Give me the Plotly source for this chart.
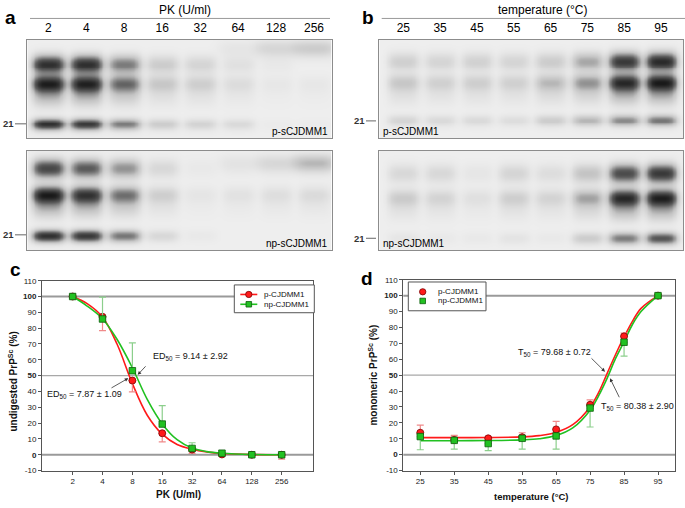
import numpy as np
import plotly.graph_objects as go

# ------------------------------------------------------------------ data
pk_lanes = ["2", "4", "8", "16", "32", "64", "128", "256"]
temp_lanes = ["25", "35", "45", "55", "65", "75", "85", "95"]

# western blot band intensities per lane (0 = background, 1 = black)
a_p_smear = [0, 0, 0, 0, 0, 0.05, 0.14, 0.2]
a_p_di = [0.85, 0.85, 0.5, 0.2, 0.15, 0.08, 0.03, 0.0]
a_p_mono = [0.9, 0.88, 0.55, 0.22, 0.18, 0.1, 0.04, 0.04]
a_p_un = [0.85, 0.8, 0.5, 0.2, 0.16, 0.12, 0.02, 0.02]

a_np_smear = [0, 0, 0, 0, 0, 0.05, 0.12, 0.28]
a_np_di = [0.72, 0.62, 0.42, 0.13, 0.03, 0.02, 0.02, 0.02]
a_np_mono = [0.92, 0.8, 0.52, 0.18, 0.05, 0.07, 0.09, 0.11]
a_np_un = [0.85, 0.8, 0.52, 0.13, 0.03, 0.0, 0.0, 0.0]

b_p_smear = [0, 0, 0, 0, 0, 0, 0, 0]
b_p_di = [0.18, 0.15, 0.17, 0.15, 0.2, 0.35, 0.8, 0.88]
b_p_mono = [0.22, 0.17, 0.18, 0.17, 0.28, 0.4, 0.85, 0.92]
b_p_un = [0.15, 0.12, 0.12, 0.1, 0.2, 0.3, 0.45, 0.52]

b_np_smear = [0, 0, 0, 0, 0, 0, 0, 0]
b_np_di = [0.13, 0.13, 0.05, 0.15, 0.1, 0.25, 0.7, 0.8]
b_np_mono = [0.2, 0.15, 0.08, 0.18, 0.15, 0.35, 0.85, 0.9]
b_np_un = [0.05, 0.03, 0.03, 0.06, 0.03, 0.2, 0.5, 0.65]

# panel c
pk_units = [2, 4, 8, 16, 32, 64, 128, 256]
c_p_mean = [100, 87.2, 46.9, 13.6, 3.3, 0.2, 0, 0]
c_p_err_minus = [0, 8.7, 7.2, 5.4, 2.5, 0.5, 0, 2.7]
c_np_mean = [100, 85.8, 53.1, 19.4, 4.0, 1.0, 0, 0]
c_np_err_plus = [0, 13.8, 17.6, 11.6, 3.6, 1.5, 0, 0]
c_fit_x = [2, 2.8, 4, 5.6, 8, 11.3, 16, 22.6, 32, 45, 64, 128, 256]
c_p_fit = [100, 95.5, 87, 70, 45, 25, 13, 6.5, 3.5, 1.8, 0.8, 0.1, 0]
c_np_fit = [100, 94, 86, 73, 55, 35, 19.5, 9.5, 4.2, 2.0, 1.0, 0.2, 0]

# panel d
temps = [25, 35, 45, 55, 65, 75, 85, 95]
d_p_mean = [13.8, 9.3, 10.3, 11.0, 15.9, 31.4, 74.4, 100]
d_p_err_plus = [4.8, 2.9, 1.1, 2.8, 5.1, 3.1, 2.1, 0]
d_np_mean = [11.4, 9.0, 7.0, 10.3, 11.8, 29.3, 70.7, 100]
d_np_err_minus = [8.3, 5.5, 4.5, 6.8, 8.3, 11.9, 8.7, 0]
d_fit_x = [25, 35, 45, 55, 60, 65, 70, 75, 77.5, 80, 82.5, 85, 87.5, 90, 95]
d_p_fit = [10.7, 10.7, 10.8, 11.2, 12, 14, 19, 30, 39, 51, 63, 74, 84, 92, 100]
d_np_fit = [8.8, 8.8, 8.9, 9.3, 10, 12, 17, 28, 37, 48, 60.5, 71, 82, 90, 100]

series_names = ["p-CJDMM1", "np-CJDMM1"]

# ------------------------------------------------------------------ helpers
W, H = 685, 508
FONT = "Arial, Liberation Sans, sans-serif"


def px(x):
    return x / W


def py(y):
    return 1 - y / H


def blot_z(xs, ys, smear, di, mono, un, rows):
    z = np.zeros((len(ys), len(xs)))
    r0, r1, r2, r3 = rows
    for i in range(len(di)):
        prof = np.exp(-(np.abs(xs - i) / 0.43) ** 4)
        wide = np.exp(-(np.abs(xs - i) / 0.55) ** 4)
        col = (
            smear[i] * np.exp(-0.5 * ((ys - r0) / 6.0) ** 2)[:, None] * wide[None, :]
            + di[i] * np.exp(-0.5 * ((ys - r1) / 6.5) ** 2)[:, None] * prof[None, :]
            + mono[i] * np.exp(-0.5 * ((ys - r2) / 6.0) ** 2)[:, None] * prof[None, :]
            + 0.3 * mono[i] * np.exp(-0.5 * ((ys - (r2 + 13)) / 7.0) ** 2)[:, None] * prof[None, :]
            + un[i] * np.exp(-0.5 * ((ys - r3) / 4.2) ** 2)[:, None] * prof[None, :]
        )
        z += col
    return np.clip(z, 0, 1)


fig = go.Figure()

blot_scale = [[0, "#eeeeee"], [0.25, "#c4c4c4"], [0.6, "#5e5e5e"], [1, "#141414"]]

blots = [
    ("", (27.3, 331.7), (36.7, 136.7), pk_lanes,
     (a_p_smear, a_p_di, a_p_mono, a_p_un), (8, 24.5, 44.5, 85.5), (-0.553, 7.466)),
    ("2", (27.3, 331.7), (149.3, 250.7), pk_lanes,
     (a_np_smear, a_np_di, a_np_mono, a_np_un), (12, 17.5, 44, 85), (-0.553, 7.466)),
    ("3", (379.3, 683.3), (36.7, 136.7), temp_lanes,
     (b_p_smear, b_p_di, b_p_mono, b_p_un), (8, 21.6, 43.3, 81.6), (-0.652, 7.606)),
    ("4", (379.3, 683.3), (149.3, 250.7), temp_lanes,
     (b_np_smear, b_np_di, b_np_mono, b_np_un), (8, 22.5, 47, 87.4), (-0.652, 7.606)),
]

layout_axes = {}
for suf, xd, yd, labels, data, rows, xr in blots:
    xs = np.linspace(xr[0], xr[1], 220)
    ys = np.linspace(0, 100, 101)
    z = blot_z(xs, ys, *data, rows)
    fig.add_trace(go.Heatmap(
        x=xs, y=ys, z=z, colorscale=blot_scale, zmin=0, zmax=1,
        showscale=False, zsmooth="best", hoverinfo="skip",
        xaxis="x" + suf, yaxis="y" + suf,
    ))
    show_top = suf in ("", "3")
    layout_axes["xaxis" + suf] = dict(
        domain=[px(xd[0]), px(xd[1])], anchor="y" + suf, range=list(xr),
        side="top", tickvals=list(range(len(labels))), ticktext=labels,
        showticklabels=show_top, ticks="", ticklabelstandoff=2,
        tickfont=dict(size=12, color="#000", family=FONT),
        showline=True, mirror=True, linecolor="#8c8c8c", linewidth=1,
        showgrid=False, zeroline=False, fixedrange=True,
    )
    layout_axes["yaxis" + suf] = dict(
        domain=[py(yd[1]), py(yd[0])], anchor="x" + suf, range=[100, 0],
        showticklabels=False, ticks="", showline=True, mirror=True,
        linecolor="#8c8c8c", linewidth=1, showgrid=False, zeroline=False,
    )

# ------------------------------------------------------------------ panel c
RED, RED_D, RED_E = "#ff1a1a", "#7a0000", "#f08a8a"
GRN, GRN_D, GRN_E = "#22c122", "#0b5e0b", "#8ccf8c"

fig.add_trace(go.Scatter(x=c_fit_x, y=c_p_fit, mode="lines", line=dict(color=RED, width=1.6, shape="spline"),
                         xaxis="x5", yaxis="y5", showlegend=False, hoverinfo="skip"))
fig.add_trace(go.Scatter(x=c_fit_x, y=c_np_fit, mode="lines", line=dict(color=GRN, width=1.6, shape="spline"),
                         xaxis="x5", yaxis="y5", showlegend=False, hoverinfo="skip"))
fig.add_trace(go.Scatter(
    x=pk_units, y=c_p_mean, mode="markers", name=series_names[0],
    marker=dict(symbol="circle", size=7, color=RED, line=dict(color=RED_D, width=0.8)),
    error_y=dict(type="data", symmetric=False, array=[0] * len(pk_units), arrayminus=c_p_err_minus,
                 color=RED_E, thickness=1.2, width=3.5),
    xaxis="x5", yaxis="y5", showlegend=False))
fig.add_trace(go.Scatter(
    x=pk_units, y=c_np_mean, mode="markers", name=series_names[1],
    marker=dict(symbol="square", size=6.5, color=GRN, line=dict(color=GRN_D, width=0.8)),
    error_y=dict(type="data", symmetric=False, array=c_np_err_plus, arrayminus=[0] * len(pk_units),
                 color=GRN_E, thickness=1.2, width=3.5),
    xaxis="x5", yaxis="y5", showlegend=False))

# ------------------------------------------------------------------ panel d
fig.add_trace(go.Scatter(x=d_fit_x, y=d_p_fit, mode="lines", line=dict(color=RED, width=1.6, shape="spline"),
                         xaxis="x6", yaxis="y6", showlegend=False, hoverinfo="skip"))
fig.add_trace(go.Scatter(x=d_fit_x, y=d_np_fit, mode="lines", line=dict(color=GRN, width=1.6, shape="spline"),
                         xaxis="x6", yaxis="y6", showlegend=False, hoverinfo="skip"))
fig.add_trace(go.Scatter(
    x=temps, y=d_p_mean, mode="markers", name=series_names[0],
    marker=dict(symbol="circle", size=7, color=RED, line=dict(color=RED_D, width=0.8)),
    error_y=dict(type="data", symmetric=False, array=d_p_err_plus, arrayminus=[0] * len(temps),
                 color=RED_E, thickness=1.2, width=3.5),
    xaxis="x6", yaxis="y6", showlegend=False))
fig.add_trace(go.Scatter(
    x=temps, y=d_np_mean, mode="markers", name=series_names[1],
    marker=dict(symbol="square", size=6.5, color=GRN, line=dict(color=GRN_D, width=0.8)),
    error_y=dict(type="data", symmetric=False, array=[0] * len(temps), arrayminus=d_np_err_minus,
                 color=GRN_E, thickness=1.2, width=3.5),
    xaxis="x6", yaxis="y6", showlegend=False))

yvals = list(range(-10, 111, 10))
ytext = [("<b>%d</b>" % v) if v in (0, 50, 100) else str(v) for v in yvals]
chart_axis = dict(showline=True, mirror=True, linecolor="#555", linewidth=1, ticks="outside",
                  ticklen=3, tickcolor="#555", showgrid=False, zeroline=False,
                  tickfont=dict(size=8, color="#222", family=FONT))

layout_axes["xaxis5"] = dict(chart_axis, domain=[px(42), px(313)], anchor="y5", type="log",
                             range=[-0.008, 2.724], tickvals=pk_units, ticktext=[str(v) for v in pk_units])
layout_axes["yaxis5"] = dict(chart_axis, domain=[py(475), py(281.7)], anchor="x5", range=[-10, 110],
                             tickvals=yvals, ticktext=ytext)
layout_axes["xaxis6"] = dict(chart_axis, domain=[px(403.3), px(675)], anchor="y6",
                             range=[20, 100], tickvals=temps, ticktext=[str(v) for v in temps])
layout_axes["yaxis6"] = dict(chart_axis, domain=[py(475), py(280.7)], anchor="x6", range=[-10, 110],
                             tickvals=yvals, ticktext=ytext)

shapes = []
for ax in ("5", "6"):
    for v, w, c in ((0, 2, "#9a9a9a"), (50, 1.4, "#a8a8a8"), (100, 2, "#9a9a9a")):
        shapes.append(dict(type="line", xref="x%s domain" % ax, yref="y" + ax, x0=0, x1=1, y0=v, y1=v,
                           line=dict(color=c, width=w), layer="below"))

shapes.append(dict(type="line", xref="paper", yref="paper", x0=px(30), x1=px(330), y0=py(14.7), y1=py(14.7),
                   line=dict(color="#999", width=1)))
shapes.append(dict(type="line", xref="paper", yref="paper", x0=px(381.7), x1=px(685), y0=py(14.7), y1=py(14.7),
                   line=dict(color="#999", width=1)))
for x0, x1, y in ((15, 26, 122), (15, 26, 235), (366, 376, 119), (366, 376, 238.5)):
    shapes.append(dict(type="line", xref="paper", yref="paper", x0=px(x0), x1=px(x1), y0=py(y), y1=py(y),
                       line=dict(color="#666", width=1)))

ann = []


def text(x, y, s, size, bold=False, xanchor="center", angle=0, color="#111"):
    ann.append(dict(x=px(x), y=py(y), xref="paper", yref="paper", text=("<b>%s</b>" % s) if bold else s,
                    showarrow=False, xanchor=xanchor, yanchor="middle", textangle=angle,
                    font=dict(size=size, family=FONT, color=color)))


def arrow(x_tail, y_tail, x_head, y_head):
    ann.append(dict(x=px(x_head), y=py(y_head), xref="paper", yref="paper", text="",
                    showarrow=True, arrowhead=2, arrowsize=0.9, arrowwidth=0.8, arrowcolor="#333",
                    ax=x_tail - x_head, ay=y_tail - y_head, axref="pixel", ayref="pixel"))


# hand-built compact legends (plotly's legend rows are taller than the original)
def legend_box(x0, y0, x1, y1, rows, with_line):
    shapes.append(dict(type="rect", xref="paper", yref="paper", x0=px(x0), x1=px(x1), y0=py(y0), y1=py(y1),
                       line=dict(color="#555", width=1), fillcolor="white", layer="above"))
    for (yy, name, col, dark, sym) in rows:
        if with_line:
            shapes.append(dict(type="line", xref="paper", yref="paper", x0=px(x0 + 6), x1=px(x0 + 23),
                               y0=py(yy), y1=py(yy), line=dict(color=col, width=1.6)))
            mx = x0 + 14.5
            tx = x0 + 27.5
        else:
            mx = x0 + 14.4
            tx = x0 + 27.7
        r = 3.2 if sym == "circle" else 2.8
        shapes.append(dict(type=sym, xref="paper", yref="paper", x0=px(mx - r), x1=px(mx + r),
                           y0=py(yy - r), y1=py(yy + r), fillcolor=col, line=dict(color=dark, width=0.8)))
        text(tx, yy, name, 8, xanchor="left", color="#111")


legend_box(234.3, 286, 314.3, 314.3,
           [(295.7, series_names[0], RED, RED_D, "circle"), (305.7, series_names[1], GRN, GRN_D, "rect")], True)
legend_box(408.3, 283, 486, 312.3,
           [(293, series_names[0], RED, RED_D, "circle"), (302.3, series_names[1], GRN, GRN_D, "rect")], False)

text(10, 14, "a", 19, bold=True, color="#000")
text(368, 14, "b", 19, bold=True, color="#000")
text(15, 270, "c", 19, bold=True, color="#000")
text(367, 279, "d", 19, bold=True, color="#000")

text(185, 6, "PK (U/ml)", 12, color="#000")
text(543, 6, "temperature (°C)", 12, color="#000")

text(8.5, 122, "21", 9.5, bold=True, color="#333")
text(8.5, 235, "21", 9.5, bold=True, color="#333")
text(359, 119, "21", 9.5, bold=True, color="#333")
text(359, 238.5, "21", 9.5, bold=True, color="#333")

text(330, 129.5, "p-sCJDMM1", 10, xanchor="right", color="#000")
text(330, 243.5, "np-sCJDMM1", 10, xanchor="right", color="#000")
text(381, 129.5, "p-sCJDMM1", 10, xanchor="left", color="#000")
text(381, 243.5, "np-sCJDMM1", 10, xanchor="left", color="#000")

text(13.3, 384, "undigested PrP<sup>Sc</sup> (%)", 10, bold=True, angle=-90)
text(178, 499.5, "PK (U/ml)", 10, bold=True)
text(373.3, 378, "monomeric PrP<sup>Sc</sup> (%)", 10, bold=True, angle=-90)
text(531.7, 501, "temperature (°C)", 9.5, bold=True)

text(190, 359, "ED<sub>50</sub> = 9.14 ± 2.92", 9)
text(84, 397.7, "ED<sub>50</sub> = 7.87 ± 1.09", 9)
text(554, 354.3, "T<sub>50</sub> = 79.68 ± 0.72", 9)
text(637.7, 410, "T<sub>50</sub> = 80.38 ± 2.90", 9)

arrow(147, 367.5, 137.7, 377.5)
arrow(110, 391.5, 128.3, 381)
arrow(590, 359.5, 605, 374.3)
arrow(620, 401.5, 610, 381)

fig.update_layout(
    width=W, height=H, margin=dict(l=0, r=0, t=0, b=0),
    paper_bgcolor="white", plot_bgcolor="white",
    font=dict(family=FONT), showlegend=False,
    shapes=shapes, annotations=ann,
    **layout_axes,
)

fig.write_html("out.html", config={"displayModeBar": False, "staticPlot": True},
               post_script="document.body.style.margin='0';document.body.style.overflow='hidden';")
